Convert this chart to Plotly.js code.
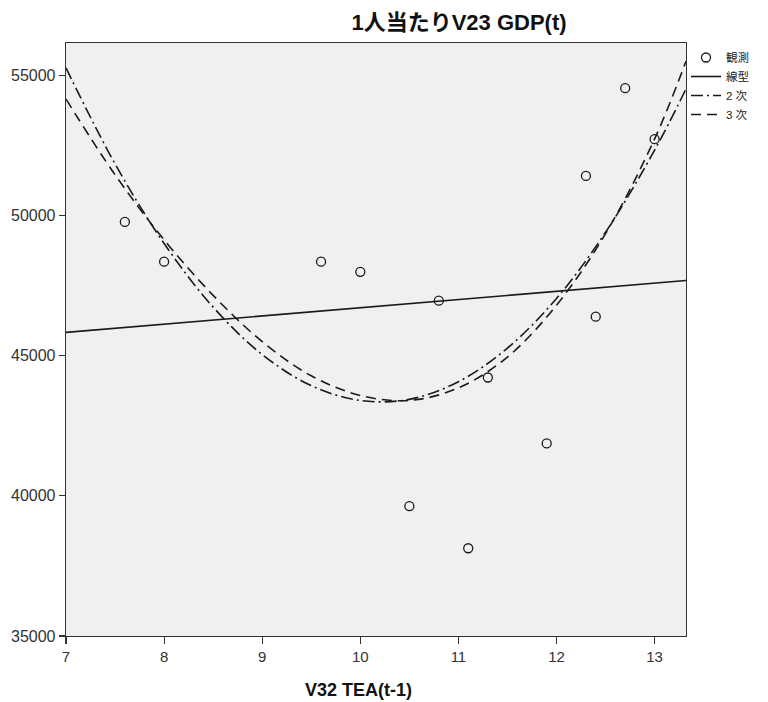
<!DOCTYPE html>
<html>
<head>
<meta charset="utf-8">
<script src="https://cdn.plot.ly/plotly-3.0.1.min.js"></script>
<style>html,body{margin:0;padding:0;background:#fff;}</style>
</head>
<body>
<div id="chart" style="width:768px;height:702px;"></div>
<script>
// Observed points
const obsX = [7.6, 8.0, 9.6, 10.0, 10.8, 11.3, 10.5, 11.1, 11.9, 12.3, 12.4, 12.7, 13.0];
const obsY = [49770, 48350, 48350, 47990, 46960, 44220, 39630, 38130, 41870, 51410, 46390, 54540, 52720];

// Linear fit line (at the axis ends)
const linX = [7.0, 13.32];
const linY = [45830, 47680];

// Quadratic and cubic fit curves
const curveX = [7.0, 7.5, 8.0, 8.5, 9.0, 9.5, 10.0, 10.5, 11.0, 11.5, 12.0, 12.5, 13.0, 13.32];
const quadY  = [55260, 51840, 49000, 46730, 45040, 43930, 43400, 43440, 44070, 45270, 47040, 49400, 52330, 54510];
const cubicY = [54150, 51450, 49130, 47150, 45500, 44280, 43580, 43400, 43850, 44950, 46800, 49350, 52730, 55500];

// Legend labels and ticks
const seriesNames = ['観測', '線型', '2 次', '3 次'];
const xTicks = [7, 8, 9, 10, 11, 12, 13];
const yTicks = [35000, 40000, 45000, 50000, 55000];

const ink = '#1a1a1a';
const traces = [
  {x: obsX, y: obsY, name: seriesNames[0], type: 'scatter', mode: 'markers',
   marker: {symbol: 'circle-open', size: 9, color: ink, line: {width: 1.3, color: ink}}},
  {x: linX, y: linY, name: seriesNames[1], type: 'scatter', mode: 'lines',
   line: {color: ink, width: 1.6}},
  {x: curveX, y: quadY, name: seriesNames[2], type: 'scatter', mode: 'lines',
   line: {color: ink, width: 1.6, dash: '12px,4px,2px,4px', shape: 'spline', smoothing: 1}},
  {x: curveX, y: cubicY, name: seriesNames[3], type: 'scatter', mode: 'lines',
   line: {color: ink, width: 1.6, dash: '10px,6px', shape: 'spline', smoothing: 1}}
];

const layout = {
  width: 768, height: 702,
  margin: {l: 66, r: 82, t: 43, b: 66, autoexpand: false},
  paper_bgcolor: '#ffffff',
  plot_bgcolor: '#f0f0f0',
  font: {family: 'Liberation Sans, Arial, "Noto Sans CJK JP", sans-serif', color: '#222'},
  title: {
    text: '1人当たりV23 GDP(t)',
    font: {size: 22, weight: 'bold', color: '#111', family: 'Liberation Sans, Arial, "Noto Sans CJK JP", sans-serif'},
    x: 459 / 768, xref: 'container', xanchor: 'center',
    y: 1 - 22 / 702, yref: 'container', yanchor: 'middle'
  },
  showlegend: true,
  legend: {
    x: 1.0, xanchor: 'left', y: 1.0, yanchor: 'top',
    font: {size: 11.5, color: '#222'},
    bgcolor: 'rgba(0,0,0,0)', borderwidth: 0,
    itemwidth: 30, tracegroupgap: 0
  },
  xaxis: {
    range: [7, 13.32], tickvals: xTicks, ticks: 'outside', ticklen: 7, tickwidth: 1.2,
    tickcolor: '#333', showgrid: false, zeroline: false, showline: true,
    linecolor: '#333', linewidth: 1.3, mirror: true,
    tickfont: {size: 15, color: '#333'}
  },
  yaxis: {
    range: [35000, 56150], tickvals: yTicks, tickformat: 'd', ticks: 'outside', ticklen: 6, tickwidth: 1.2,
    tickcolor: '#333', showgrid: false, zeroline: false, showline: true,
    linecolor: '#333', linewidth: 1.3, mirror: true,
    tickfont: {size: 16, color: '#333'}
  },
  annotations: [{
    text: '<b>V32 TEA(t-1)</b>', xref: 'paper', yref: 'paper',
    x: (358 - 66) / 620, y: -(690 - 636) / 593, xanchor: 'center', yanchor: 'middle',
    showarrow: false, font: {size: 18, color: '#111'}
  }],
  hovermode: false
};

Plotly.newPlot('chart', traces, layout, {displayModeBar: false, staticPlot: true});
</script>
</body>
</html>
